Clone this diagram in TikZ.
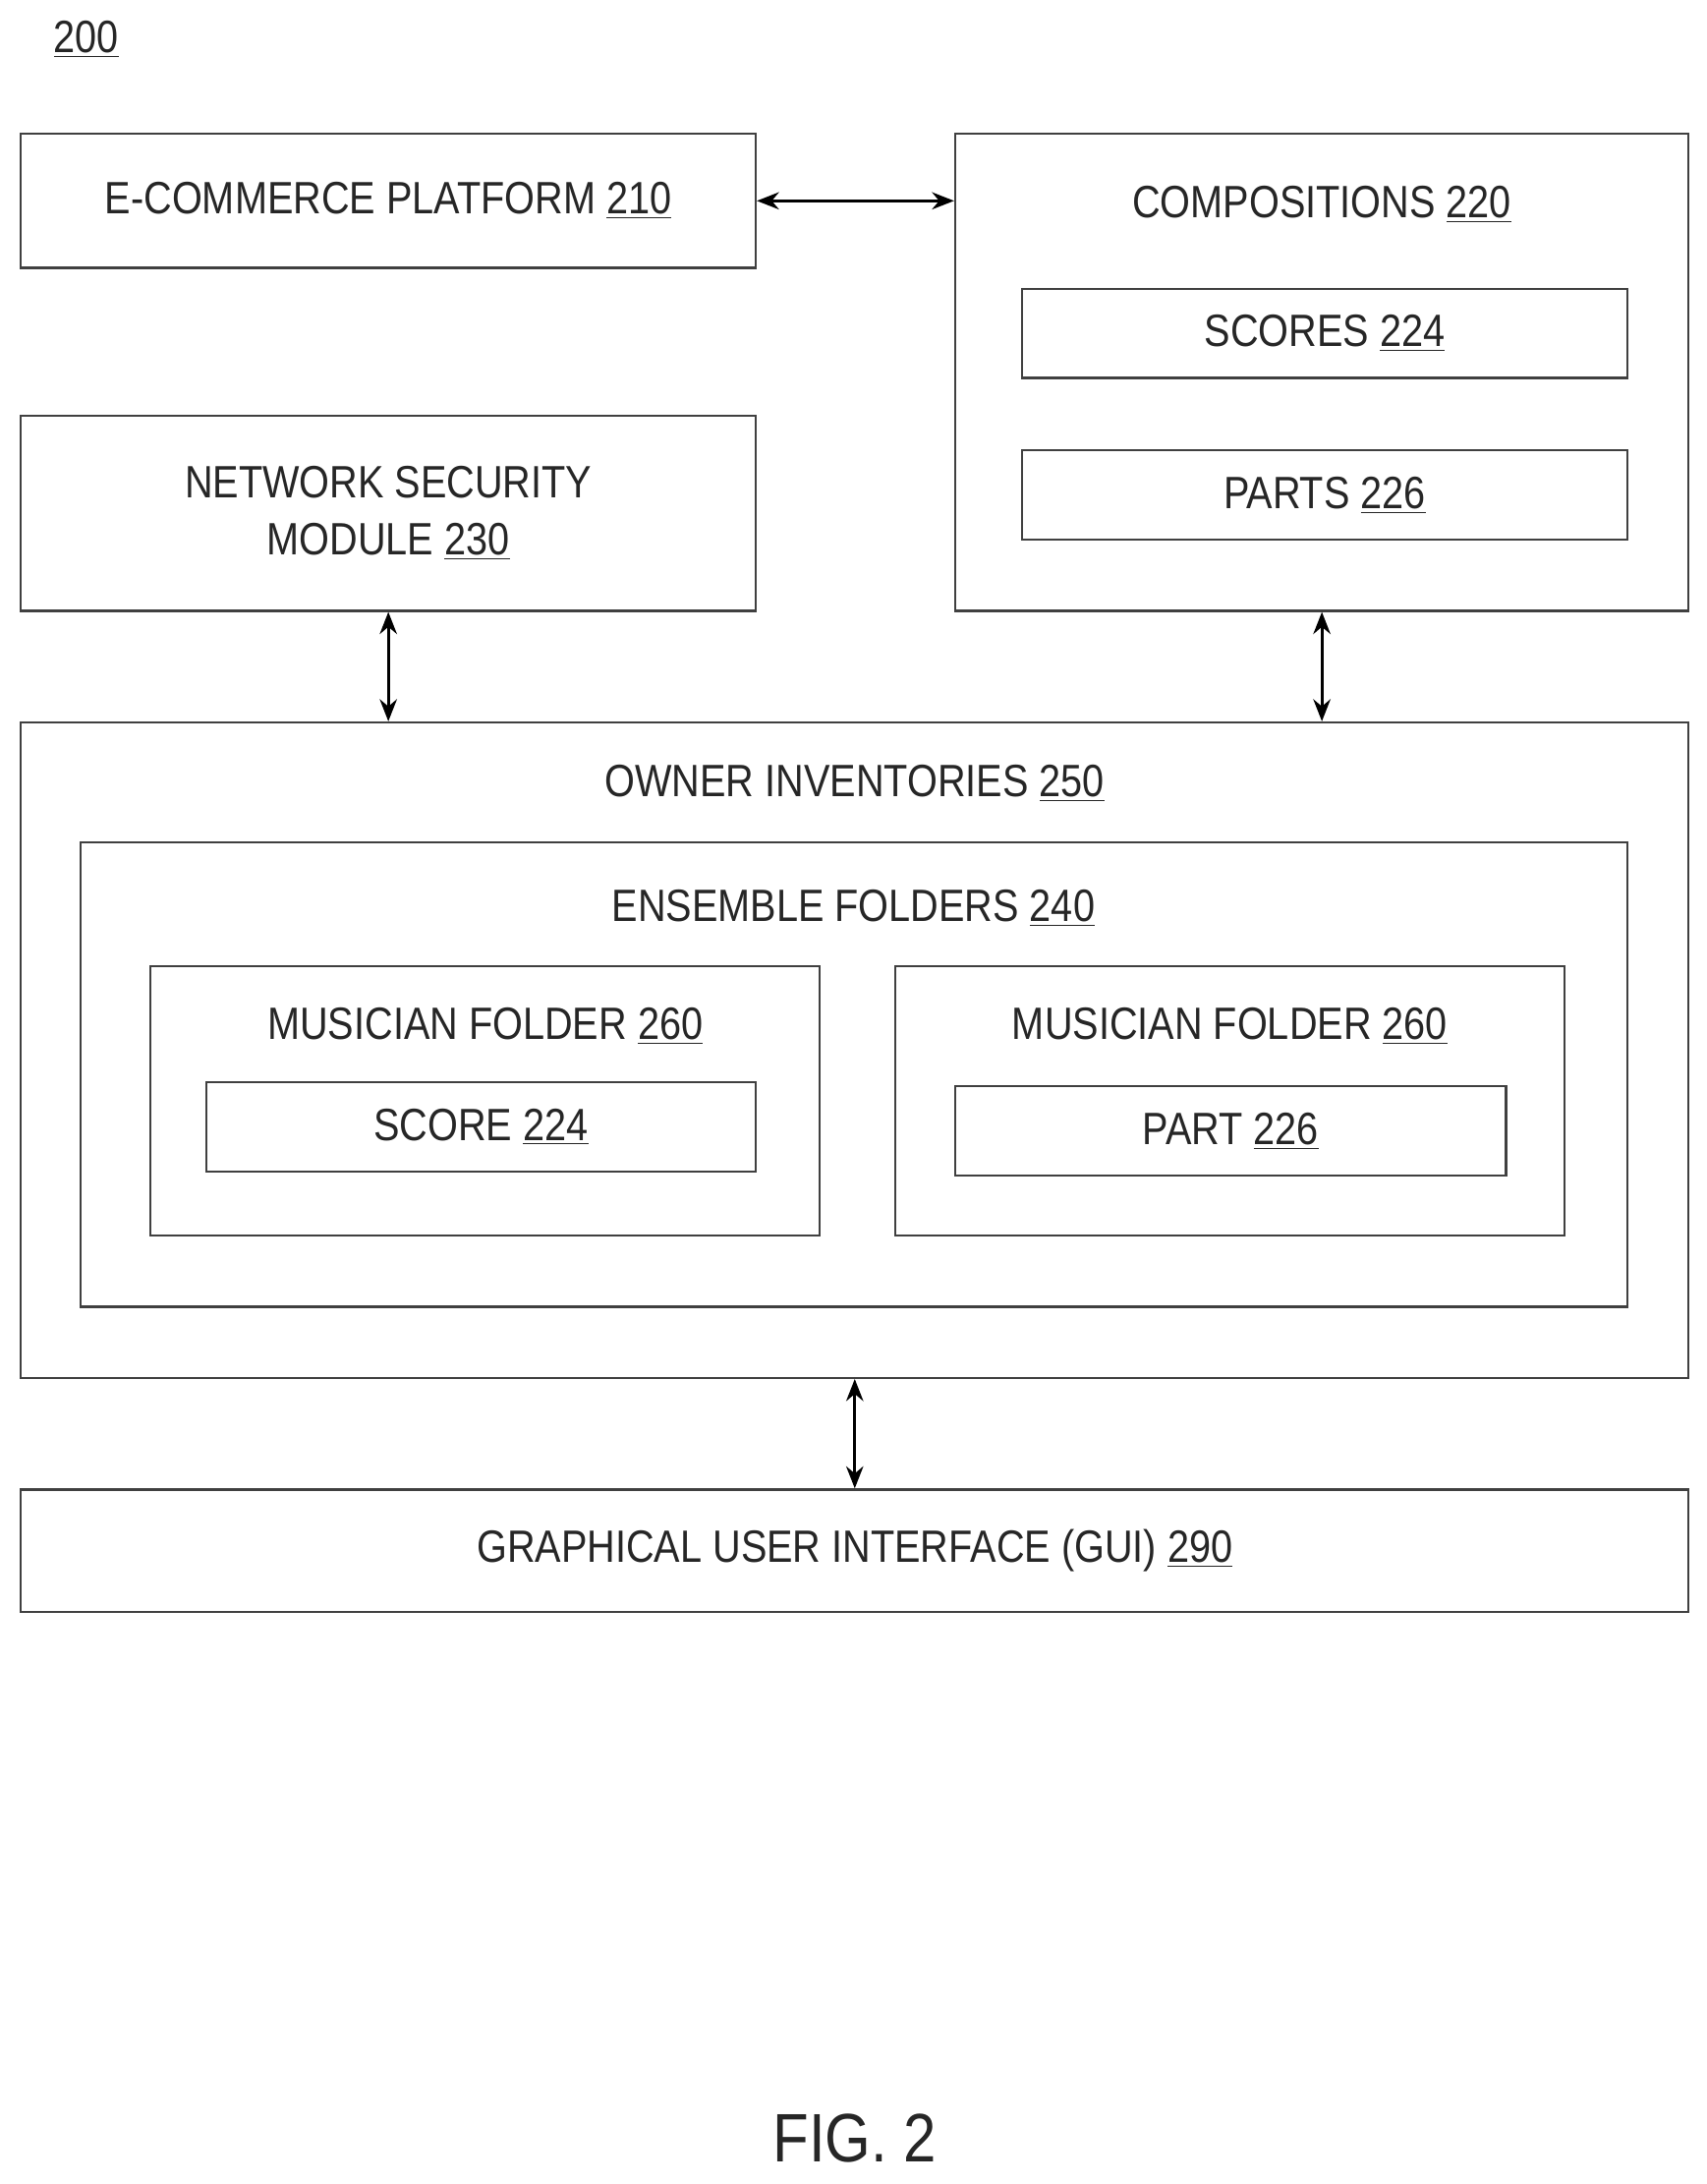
\documentclass[tikz,border=0pt]{standalone}
\usepackage{fontspec}
\setmainfont[FakeStretch=0.86]{Liberation Sans}
\usetikzlibrary{arrows.meta}
\newcommand{\refnum}[1]{\underline{#1}}
\tikzset{
  blk/.style={draw=black!75, line width=0.9pt, rectangle, inner sep=0pt},
  lbl/.style={font=\fontsize{18.5}{23}\selectfont, align=center, text=black!85},
  link/.style={{Stealth[length=9pt,width=7pt]}-{Stealth[length=9pt,width=7pt]}, line width=1.2pt}
}
\begin{document}
\begin{tikzpicture}[x=0.02cm, y=-0.02cm]
  \useasboundingbox (0,0) rectangle (1224,1566);
  \node[lbl] (fig) at (62,28) {\refnum{200}};
  % upper row
  \node[blk, minimum width=527*0.02cm, minimum height=96*0.02cm] (shop) at (278.5,144) {};
  \node[lbl] at (shop) {E-COMMERCE PLATFORM \refnum{210}};
  \node[blk, minimum width=526*0.02cm, minimum height=342*0.02cm] (comp) at (948,267) {};
  \node[lbl] at (948,147) {COMPOSITIONS \refnum{220}};
  \node[blk, minimum width=434*0.02cm, minimum height=64*0.02cm] (scores) at (950,239) {};
  \node[lbl] at (scores) {SCORES \refnum{224}};
  \node[blk, minimum width=434*0.02cm, minimum height=64*0.02cm] (parts) at (950,355) {};
  \node[lbl] at (parts) {PARTS \refnum{226}};
  \node[blk, minimum width=527*0.02cm, minimum height=140*0.02cm] (secure) at (278.5,368) {};
  \node[lbl] at (secure) {NETWORK SECURITY\\MODULE \refnum{230}};
  % inventories
  \node[blk, minimum width=1196*0.02cm, minimum height=470*0.02cm] (owner) at (613,753) {};
  \node[lbl] at (613,562) {OWNER INVENTORIES \refnum{250}};
  \node[blk, minimum width=1109*0.02cm, minimum height=333*0.02cm] (ensemble) at (612.5,770.5) {};
  \node[lbl] at (612,651) {ENSEMBLE FOLDERS \refnum{240}};
  \node[blk, minimum width=480*0.02cm, minimum height=193*0.02cm] (folderA) at (348,789.5) {};
  \node[lbl] at (348,736) {MUSICIAN FOLDER \refnum{260}};
  \node[blk, minimum width=394*0.02cm, minimum height=64*0.02cm] (score) at (345,808) {};
  \node[lbl] at (score) {SCORE \refnum{224}};
  \node[blk, minimum width=480*0.02cm, minimum height=193*0.02cm] (folderB) at (882,789.5) {};
  \node[lbl] at (882,736) {MUSICIAN FOLDER \refnum{260}};
  \node[blk, minimum width=395*0.02cm, minimum height=64*0.02cm] (part) at (882.5,811) {};
  \node[lbl] at (part) {PART \refnum{226}};
  % interface
  \node[blk, minimum width=1196*0.02cm, minimum height=88*0.02cm] (gui) at (613,1112) {};
  \node[lbl] at (gui) {GRAPHICAL USER INTERFACE (GUI) \refnum{290}};
  % connectors
  \draw[link] (shop.east) -- (comp.west |- shop.east);
  \draw[link] (secure.south) -- (owner.north -| secure.south);
  \draw[link] (comp.south) -- (owner.north -| comp.south);
  \draw[link] (owner.south) -- (gui.north);
  \node[font=\fontsize{28}{34}\selectfont, text=black!85] (caption) at (613,1533) {FIG. 2};
\end{tikzpicture}
\end{document}
